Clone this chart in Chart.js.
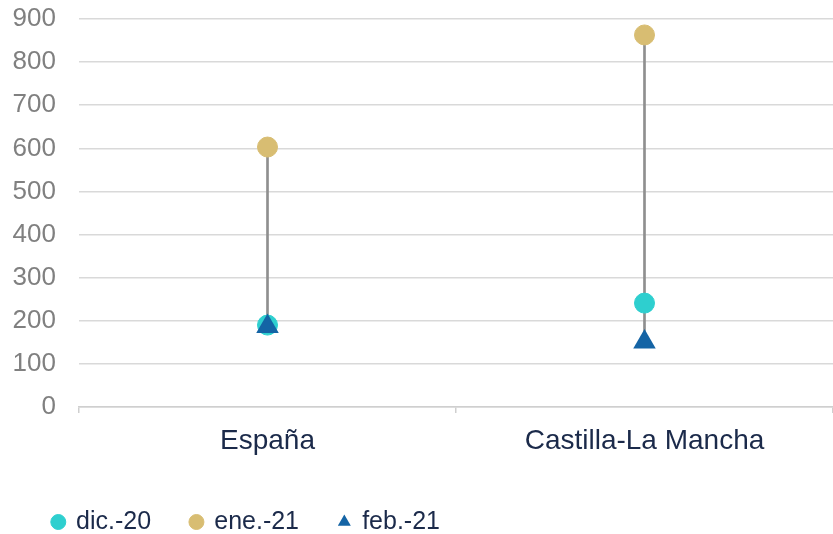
<!DOCTYPE html>
<html>
<head>
<meta charset="utf-8">
<script src="https://cdn.jsdelivr.net/npm/chart.js@4.4.1/dist/chart.umd.min.js"></script>
<style>
  html, body { margin: 0; padding: 0; background: #ffffff; }
  #wrap { width: 833px; height: 534px; position: relative; }
</style>
</head>
<body>
<div id="wrap"><canvas id="chart"></canvas></div>
<script>
// Regions and monthly values
const categories = ['España', 'Castilla-La Mancha'];
const dic20 = [190, 241];
const ene21 = [603, 863];
const feb21 = [187, 151];
const seriesLabels = ['dic.-20', 'ene.-21', 'feb.-21'];
const yTicks = [0, 100, 200, 300, 400, 500, 600, 700, 800, 900];

// Range connector for each region: from lowest to highest of the three months
const ranges = categories.map((_, i) => {
  const vals = [dic20[i], ene21[i], feb21[i]];
  return [Math.min(...vals), Math.max(...vals)];
});

Chart.defaults.font.family = "'Liberation Sans', Arial, sans-serif";

const TEAL = '#2ecfcf';
const GOLD = '#d8bd72';
const BLUE = '#1464a5';
const NAVY = '#1b2a4a';

new Chart(document.getElementById('chart'), {
  type: 'bar',
  data: {
    labels: categories,
    datasets: [
      {
        type: 'line', label: seriesLabels[0], data: dic20, showLine: false,
        pointStyle: 'circle', pointRadius: 10, borderWidth: 1,
        backgroundColor: TEAL, borderColor: TEAL, order: 3
      },
      {
        type: 'line', label: seriesLabels[1], data: ene21, showLine: false,
        pointStyle: 'circle', pointRadius: 10, borderWidth: 1,
        backgroundColor: GOLD, borderColor: GOLD, order: 2
      },
      {
        type: 'line', label: seriesLabels[2], data: feb21, showLine: false,
        pointStyle: 'triangle', pointRadius: 13, borderWidth: 0,
        backgroundColor: BLUE, borderColor: BLUE, order: 1
      },
      {
        type: 'bar', label: 'range', data: ranges,
        backgroundColor: '#8f8f8f', borderWidth: 0, barThickness: 2, order: 10
      }
    ]
  },
  options: {
    responsive: true,
    maintainAspectRatio: false,
    animation: false,
    events: [],
    layout: { autoPadding: false, padding: { top: 19, left: 13, right: 0, bottom: -10.5 } },
    plugins: {
      tooltip: { enabled: false },
      legend: {
        position: 'bottom',
        align: 'start',
        labels: {
          usePointStyle: true,
          boxWidth: 10.6,
          boxHeight: 10.6,
          padding: 40,
          color: NAVY,
          font: { size: 25 },
          filter: (item) => item.datasetIndex !== 3,
          sort: (a, b) => a.datasetIndex - b.datasetIndex
        }
      }
    },
    scales: {
      x: {
        offset: true,
        grid: {
          offset: true,
          drawOnChartArea: false,
          drawTicks: true,
          tickLength: 6,
          color: '#cfcfcf',
          lineWidth: 1.5
        },
        border: { display: true, color: '#cfcfcf', width: 1.5 },
        ticks: { color: NAVY, font: { size: 28 }, padding: 11 },
        afterFit: (scale) => {
          scale.height = 62.5;
          scale.paddingLeft = 0;
          scale.paddingRight = 0;
        }
      },
      y: {
        min: 0,
        max: 900,
        afterBuildTicks: (scale) => { scale.ticks = yTicks.map(v => ({ value: v })); },
        grid: { color: '#d9d9d9', lineWidth: 1.5, drawTicks: false },
        border: { display: false },
        ticks: { color: '#808080', font: { size: 26 }, padding: 23 },
        afterFit: (scale) => {
          scale.width = 66;
          scale.paddingTop = 0;
          scale.paddingBottom = 0;
        }
      }
    }
  }
});
</script>
</body>
</html>
